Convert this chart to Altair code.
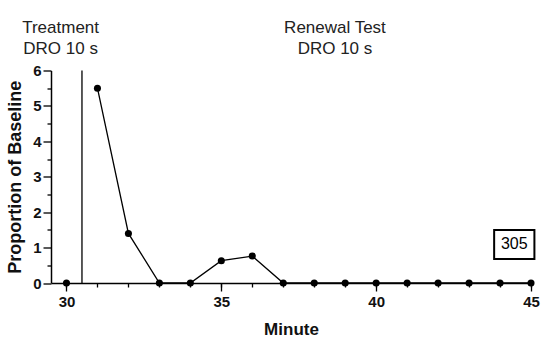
import altair as alt
import pandas as pd

# Session minutes and response rate as a proportion of baseline
treatment_minutes = [30]
treatment_values = [0.0]
renewal_minutes = [31, 32, 33, 34, 35, 36, 37, 38, 39, 40, 41, 42, 43, 44, 45]
renewal_values = [5.5, 1.4, 0.0, 0.0, 0.63, 0.76, 0.0, 0.0, 0.0, 0.0, 0.0, 0.0, 0.0, 0.0, 0.0]

# Axis ticks
x_major = [30, 35, 40, 45]
x_minor = list(range(30, 46))
y_major = [0, 1, 2, 3, 4, 5, 6]
y_minor = [0.5, 1.5, 2.5, 3.5, 4.5, 5.5]

# Phase change between treatment and renewal test
phase_change = [30.5]

# Phase headers
header_text = ["Treatment\nDRO 10 s", "Renewal Test\nDRO 10 s"]
header_x = [29.81, 38.67]
header_y = [7.2, 7.2]

# Participant label
participant = "305"

FONT = "Liberation Sans"

series = pd.DataFrame(
    {
        "minute": treatment_minutes + renewal_minutes,
        "value": treatment_values + renewal_values,
        "phase": ["treatment"] * len(treatment_minutes) + ["renewal"] * len(renewal_minutes),
    }
)
phase_df = pd.DataFrame({"x": phase_change, "y0": [0.0], "y1": [6.0]})
header_df = pd.DataFrame({"text": header_text, "x": header_x, "y": header_y})
label_df = pd.DataFrame(
    {"text": [participant], "x": [43.81], "x2": [45.11], "y": [1.50], "y2": [0.68],
     "xc": [44.46], "yc": [1.09]}
)

x_scale = alt.Scale(domain=[29.5, 45], nice=False, zero=False)
y_scale = alt.Scale(domain=[0, 6], nice=False)

x_axis = alt.Axis(
    title="Minute", orient="bottom", values=x_major, tickSize=8,
    labelPadding=3, titlePadding=12, titleFontSize=17,
    labelFlush=False, labelOverlap=False,
)
y_axis = alt.Axis(
    title="Proportion of Baseline", orient="left", values=y_major, tickSize=8,
    labelPadding=2, titlePadding=8, titleFontSize=18,
    labelFlush=False, labelOverlap=False,
)
x_minor_axis = alt.Axis(
    title=None, orient="bottom", values=x_minor, tickSize=4, labels=False, domain=False,
)
y_minor_axis = alt.Axis(
    title=None, orient="left", values=y_minor, tickSize=4, labels=False, domain=False,
)

base = alt.Chart(series)

line = base.mark_line(color="black", strokeWidth=1.3).encode(
    x=alt.X("minute:Q", scale=x_scale, axis=x_axis),
    y=alt.Y("value:Q", scale=y_scale, axis=y_axis),
    detail="phase:N",
)
points = base.mark_point(filled=True, color="black", size=50, opacity=1).encode(
    x=alt.X("minute:Q", axis=x_minor_axis),
    y=alt.Y("value:Q", axis=y_minor_axis),
)

phase_line = alt.Chart(phase_df).mark_rule(color="black", strokeWidth=1.3).encode(
    x=alt.X("x:Q", axis=None), y=alt.Y("y0:Q", axis=None), y2="y1:Q"
)

headers = alt.Chart(header_df).mark_text(
    font=FONT, fontSize=17, color="#222222", lineBreak="\n", lineHeight=20.5,
    align="center", baseline="middle",
).encode(x=alt.X("x:Q", axis=None), y=alt.Y("y:Q", axis=None), text="text:N")

box = alt.Chart(label_df).mark_rect(
    fill="white", stroke="black", strokeWidth=2
).encode(x=alt.X("x:Q", axis=None), x2="x2:Q", y=alt.Y("y:Q", axis=None), y2="y2:Q")
box_text = alt.Chart(label_df).mark_text(
    font=FONT, fontSize=16, color="black", align="center", baseline="middle"
).encode(x=alt.X("xc:Q", axis=None), y=alt.Y("yc:Q", axis=None), text="text:N")

chart = (
    alt.layer(line, phase_line, points, headers, box, box_text)
    .resolve_axis(x="independent", y="independent")
    .properties(
        width=480,
        height=212.5,
        padding={"left": 51, "top": 70.5, "right": 10, "bottom": 62},
        autosize=alt.AutoSizeParams(type="none"),
    )
    .configure_view(stroke=None)
    .configure_axis(
        grid=False,
        domainColor="black",
        domainWidth=1.5,
        tickColor="black",
        tickWidth=1.3,
        labelFont=FONT,
        labelFontWeight="bold",
        labelFontSize=15,
        labelColor="#111111",
        titleFont=FONT,
        titleFontWeight="bold",
        titleColor="#111111",
    )
)

chart.save("out.html", embed_options={"renderer": "svg", "actions": False})
